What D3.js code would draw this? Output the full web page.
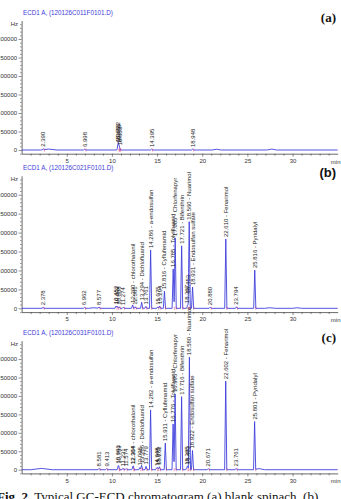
<!DOCTYPE html>
<html>
<head>
<meta charset="utf-8">
<script src="https://cdn.jsdelivr.net/npm/d3@7"></script>
<style>
  body { margin: 0; background: #fff; overflow: hidden; }
  svg { display: block; }
</style>
</head>
<body>
<script>
// values (time in min, signal in Hz)
var hzTicks = [0, 50000, 100000, 150000, 200000, 250000, 300000];
var timeTicks = [5, 10, 15, 20, 25, 30];
var panelTags = ["(a)", "(b)", "(c)"];
var runTitles = [
    "ECD1 A, (120126C011F0101.D)",
    "ECD1 A, (120126C021F0101.D)",
    "ECD1 A, (120126C031F0101.D)"
];

// [retention time, height, label]
var peaksA = [
    [2.390, 2500, "2.390"],
    [6.998, 2500, "6.998"],
    [10.663, 9000, "10.663"],
    [10.722, 14000, "10.722"],
    [10.798, 6000, "10.798"],
    [10.853, 4000, "10.853"],
    [14.395, 2500, "14.395"],
    [18.948, 2500, "18.948"]
];
var peaksB = [
    [2.378, 2500, "2.378"],
    [6.962, 2500, "6.962"],
    [8.577, 3500, "8.577"],
    [10.452, 6000, "10.452"],
    [10.602, 5000, "10.602"],
    [10.808, 4000, "10.808"],
    [11.274, 3000, "11.274"],
    [12.290, 9000, "12.290 - chlorothalonil"],
    [12.581, 4000, "12.581"],
    [13.294, 16000, "13.294 - Dichlofluanid"],
    [13.761, 5000, "13.761"],
    [14.286, 154000, "14.286 - a-endosulfan"],
    [15.075, 4000, "15.075"],
    [15.294, 6000, "15.294"],
    [15.816, 45000, "15.816 - Cyflufenamid"],
    [16.785, 104000, "16.785 - Tolylfluanid"],
    [17.005, 186000, "17.005 - Chlorfenapyr"],
    [17.721, 165000, "17.721 - Bifenthrin"],
    [18.367, 6000, "18.367"],
    [18.453, 8000, "18.453"],
    [18.560, 228000, "18.560 - Nuarimol"],
    [18.931, 56000, "18.931 - Endosulfan sulfate"],
    [20.880, 3000, "20.880"],
    [22.610, 183000, "22.610 - Fenarimol"],
    [23.794, 4000, "23.794"],
    [25.816, 101000, "25.816 - Pyridalyl"]
];
var peaksC = [
    [8.581, 3500, "8.581"],
    [9.413, 3000, "9.413"],
    [10.693, 8000, "10.693"],
    [10.759, 7000, "10.759"],
    [11.231, 4000, "11.231"],
    [11.574, 3000, "11.574"],
    [12.304, 5000, "12.304"],
    [12.364, 8000, "12.364 - chlorothalonil"],
    [13.098, 6000, "13.098"],
    [13.286, 12000, "13.286 - Dichlofluanid"],
    [13.779, 9000, "13.779"],
    [14.282, 162000, "14.282 - a-endosulfan"],
    [14.948, 5000, "14.948"],
    [15.075, 6000, "15.075"],
    [15.262, 8000, "15.262"],
    [15.911, 72000, "15.911 - Cyflufenamid"],
    [16.776, 124000, "16.776 - Tolylfluanid"],
    [16.995, 205000, "16.995 - Chlorfenapyr"],
    [17.716, 198000, "17.716 - Bifenthrin"],
    [18.295, 7000, "18.295"],
    [18.402, 9000, "18.402"],
    [18.580, 305000, "18.580 - Nuarimol"],
    [18.922, 52000, "18.922 - Endosulfan sulfate"],
    [20.671, 3000, "20.671"],
    [22.602, 240000, "22.602 - Fenarimol"],
    [23.761, 3500, "23.761"],
    [25.801, 130000, "25.801 - Pyridalyl"]
];

// baseline drift humps: [time, height, half width]
var humpsA = [[3.0, 2500, 0.9], [21.6, 2000, 0.5], [27.7, 2500, 0.5]];
var humpsB = [[8.0, 1500, 0.6], [27.5, 1500, 0.6], [30.5, 1500, 0.5]];
var humpsC = [[2.2, 3500, 1.2], [26.3, 3000, 0.6]];

var caption = "Typical GC-ECD chromatogram (a) blank spinach, (b)";

var W = 341, H = 499;
var svg = d3.select("body").append("svg")
        .attr("width", W)
        .attr("height", H);

var x = d3.scaleLinear().domain([0, 35]).range([21.6, 337.7]);

var panels = [
    {top: 20.5, bottom: 153.7, peaks: peaksA, humps: humpsA, tagFont: "Liberation Serif"},
    {top: 175.8, bottom: 312.1, peaks: peaksB, humps: humpsB, tagFont: "Liberation Sans"},
    {top: 340.6, bottom: 473.4, peaks: peaksC, humps: humpsC, tagFont: "Liberation Serif"}
];

var peakHalf = 0.12;
var blue = "#4040dc";

function signalAt(t, peaks, humps) {
    var v = 0;
    peaks.forEach(function(p) {
        var d = Math.abs(t - p[0]);
        if (d < peakHalf) v += p[1] * (1 - d / peakHalf);
    });
    humps.forEach(function(p) {
        var d = Math.abs(t - p[0]);
        if (d < p[2]) v += p[1] * (1 - d / p[2]);
    });
    return v;
}

panels.forEach(function(pn, i) {
    var y = d3.scaleLinear().domain([-10000, 350000]).range([pn.bottom, pn.top]);
    var g = svg.append("g");

    // x axis
    var xAxis = g.append("g")
            .attr("transform", "translate(0," + pn.bottom + ")")
            .call(d3.axisBottom(x).tickValues(timeTicks).tickSize(3).tickSizeOuter(0)
                .tickFormat(d3.format("d")));
    g.append("g")
            .attr("transform", "translate(0," + pn.bottom + ")")
            .call(d3.axisBottom(x).tickValues(d3.range(1, 35).filter(function(d) { return d % 5; }))
                .tickSize(2).tickSizeOuter(0).tickFormat(""))
            .select(".domain").remove();
    xAxis.select(".domain").attr("stroke", "#444").attr("stroke-width", 0.8);
    xAxis.selectAll("text").attr("font-size", 6).attr("fill", "#333").attr("y", 5)
            .attr("font-family", "Liberation Sans");
    g.append("text")
            .attr("x", x(35) - 2)
            .attr("y", pn.bottom + 10)
            .attr("text-anchor", "middle")
            .attr("font-size", 6)
            .attr("fill", "#333")
            .attr("font-family", "Liberation Sans")
            .text("min");

    // y axis
    var yAxis = g.append("g")
            .attr("transform", "translate(" + x(0) + ",0)")
            .call(d3.axisLeft(y).tickValues(hzTicks).tickSize(3).tickSizeOuter(0)
                .tickFormat(d3.format("d")));
    g.append("g")
            .attr("transform", "translate(" + x(0) + ",0)")
            .call(d3.axisLeft(y).tickValues(d3.range(-10000, 350001, 10000).filter(function(d) { return d % 50000; }))
                .tickSize(1.5).tickSizeOuter(0).tickFormat(""))
            .select(".domain").remove();
    yAxis.select(".domain").attr("stroke", "#444").attr("stroke-width", 0.8);
    yAxis.selectAll("text").attr("font-size", 6).attr("fill", "#333").attr("x", -4.5)
            .attr("font-family", "Liberation Sans");
    g.selectAll(".tick line").attr("stroke", "#444").attr("stroke-width", 0.6);

    g.append("text")
            .attr("x", 18)
            .attr("y", pn.top + 5.5)
            .attr("text-anchor", "end")
            .attr("font-size", 6)
            .attr("fill", "#333")
            .attr("font-family", "Liberation Sans")
            .text("Hz");

    // run title
    g.append("text")
            .attr("x", 23)
            .attr("y", pn.top - 5.5)
            .attr("font-size", 6.3)
            .attr("fill", blue)
            .attr("font-family", "Liberation Sans")
            .text(runTitles[i]);

    // panel tag
    g.append("text")
            .attr("x", 336)
            .attr("y", pn.top + 1.5)
            .attr("text-anchor", "end")
            .attr("font-size", 13)
            .attr("font-weight", "bold")
            .attr("font-family", pn.tagFont)
            .attr("fill", "#111")
            .text(panelTags[i]);

    // trace
    var ts = [0, 35];
    pn.peaks.forEach(function(p) { ts.push(p[0] - peakHalf, p[0], p[0] + peakHalf); });
    pn.humps.forEach(function(p) { ts.push(p[0] - p[2], p[0], p[0] + p[2]); });
    ts.sort(d3.ascending);
    var pts = ts.map(function(t) { return [t, signalAt(t, pn.peaks, pn.humps)]; });
    var line = d3.line()
            .x(function(d) { return x(d[0]); })
            .y(function(d) { return y(d[1]); });
    g.append("path")
            .datum(pts)
            .attr("fill", "none")
            .attr("stroke", blue)
            .attr("stroke-width", 0.9)
            .attr("stroke-linejoin", "round")
            .attr("d", line);

    // integration marks at peak bases
    g.selectAll(".mark")
            .data(pn.peaks)
            .enter().append("line")
            .attr("x1", function(d) { return x(d[0] + peakHalf); })
            .attr("x2", function(d) { return x(d[0] + peakHalf); })
            .attr("y1", y(0) - 1.5)
            .attr("y2", y(0) + 1.5)
            .attr("stroke", "#d0307a")
            .attr("stroke-width", 0.5);

    // peak labels
    g.selectAll(".lbl")
            .data(pn.peaks)
            .enter().append("text")
            .attr("transform", function(d) {
                var py = Math.min(y(signalAt(d[0], pn.peaks, pn.humps)), y(0) - 1) - 2;
                return "translate(" + (x(d[0]) + 2) + "," + py + ") rotate(-90)";
            })
            .attr("font-size", 6)
            .attr("fill", "#222")
            .attr("font-family", "Liberation Sans")
            .text(function(d) { return d[2]; });
});

// caption
var cap = svg.append("text")
        .attr("x", -3)
        .attr("y", 501)
        .attr("font-size", 13)
        .attr("font-family", "Liberation Serif")
        .attr("fill", "#111");
cap.append("tspan").attr("font-weight", "bold").text("Fig. 2.");
cap.append("tspan").text(" " + caption);
</script>
</body>
</html>
